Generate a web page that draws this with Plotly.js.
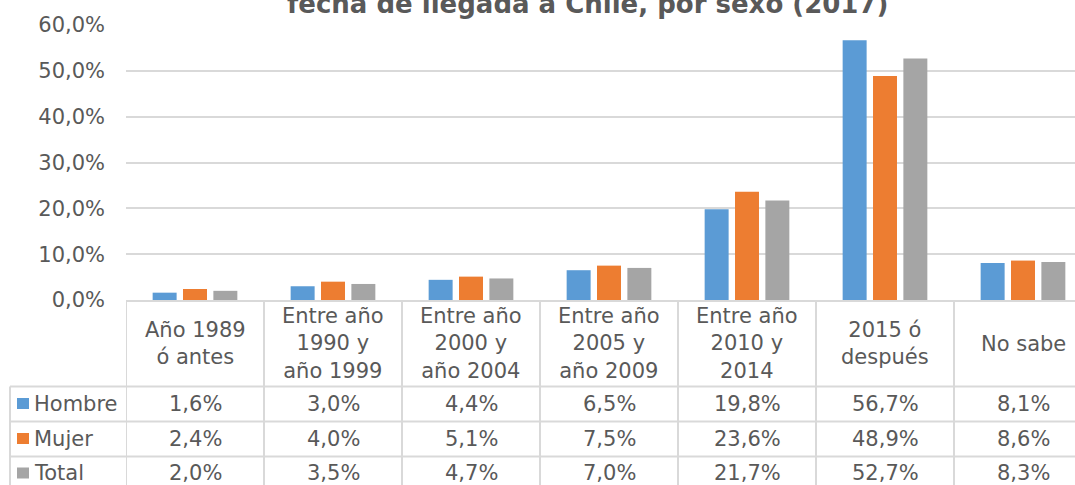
<!DOCTYPE html>
<html><head><meta charset="utf-8">
<script src="https://cdn.plot.ly/plotly-3.0.1.min.js"></script>
<style>html,body{margin:0;padding:0;background:#fff;}</style>
</head><body>
<div id="chart" style="width:1075px;height:485px;"></div>
<script>
// ---- data ----
const categories = ["Año 1989 ó antes","Entre año 1990 y año 1999","Entre año 2000 y año 2004","Entre año 2005 y año 2009","Entre año 2010 y 2014","2015 ó después","No sabe"];
const headerLabels = ["Año 1989<br>ó antes","Entre año<br>1990 y<br>año 1999","Entre año<br>2000 y<br>año 2004","Entre año<br>2005 y<br>año 2009","Entre año<br>2010 y<br>2014","2015 ó<br>después","No sabe"];
const seriesNames = ["Hombre","Mujer","Total"];
const hombre = [1.6,3.0,4.4,6.5,19.8,56.7,8.1];
const mujer  = [2.4,4.0,5.1,7.5,23.6,48.9,8.6];
const total  = [2.0,3.5,4.7,7.0,21.7,52.7,8.3];
const yTicks = [0,10,20,30,40,50,60];
const titleText = "fecha de llegada a Chile, por sexo (2017)";

// ---- style ----
const colors = ["#5B9BD5","#ED7D31","#A5A5A5"];
const txt = "#595959", grid = "#D9D9D9";
const FONT = "DejaVu Sans, Verdana, sans-serif";
const W = 1075, H = 485, L = 126, T = 25, B = 300;
const PW = W - L, PH = B - T;
const py = px => (B - px) / PH;       // pixel y -> paper y
const pxp = px => (px - L) / PW;      // pixel x -> paper x
const fmt = v => v.toFixed(1).replace('.', ',') + '%';

const series = [hombre, mujer, total];
const traces = series.map((vals, i) => ({
  type: 'bar', name: seriesNames[i], x: categories, y: vals,
  marker: {color: colors[i]}, hoverinfo: 'skip'
}));

const shapes = [], annotations = [];
const lineStyle = {color: grid, width: 2};
// table top
shapes.push({type:'line', xref:'paper', yref:'paper', x0:0, x1:1, y0:py(301), y1:py(301), line:lineStyle});
// row lines
[386.5, 421.5, 456.5].forEach(y => shapes.push({type:'line', xref:'paper', yref:'paper', x0:pxp(10), x1:1, y0:py(y), y1:py(y), line:lineStyle}));
// legend column left border
shapes.push({type:'line', xref:'paper', yref:'paper', x0:pxp(10), x1:pxp(10), y0:py(386.5), y1:py(495), line:lineStyle});
// column borders
for (let k = 0; k <= categories.length; k++) {
  shapes.push({type:'line', xref:'x', yref:'paper', x0:k-0.5, x1:k-0.5, y0:py(301), y1:py(495), line:lineStyle});
}
const rowCenters = [403.5, 438.5, 473];
// header
headerLabels.forEach((lab, i) => annotations.push({
  xref:'x', yref:'paper', x:i, y:py(343.5), text:lab, showarrow:false, align:'center',
  xanchor:'center', yanchor:'middle', font:{family:FONT, size:21, color:txt}
}));
// rows
series.forEach((vals, r) => {
  shapes.push({type:'rect', xref:'paper', yref:'paper', x0:pxp(17), x1:pxp(29), y0:py(rowCenters[r]-5.5), y1:py(rowCenters[r]+5.5), fillcolor:colors[r], line:{width:0}});
  annotations.push({xref:'paper', yref:'paper', x:pxp(32), y:py(rowCenters[r]), text:seriesNames[r], showarrow:false,
    xanchor:'left', yanchor:'middle', font:{family:FONT, size:21, color:txt}});
  vals.forEach((v, i) => annotations.push({xref:'x', yref:'paper', x:i, y:py(rowCenters[r]), text:fmt(v), showarrow:false,
    xanchor:'center', yanchor:'middle', font:{family:FONT, size:21, color:txt}}));
});
// title (top clipped like the reference)
annotations.push({xref:'paper', yref:'paper', x:pxp(587), y:py(4), text:'<b>'+titleText+'</b>', showarrow:false,
  xanchor:'center', yanchor:'middle', font:{family:FONT, size:26, color:txt}});

const layout = {
  width: W, height: H,
  margin: {l: L, r: 0, t: T, b: H - B, pad: 0},
  paper_bgcolor: '#fff', plot_bgcolor: '#fff',
  showlegend: false,
  barmode: 'group', bargap: 0.34, bargroupgap: 0.21,
  xaxis: {type:'category', range:[-0.5, categories.length - 0.5 - 17/138], showticklabels:false, showgrid:false, zeroline:false, showline:false, fixedrange:true},
  yaxis: {range:[0,60], tickmode:'array', tickvals:yTicks, ticktext:yTicks.map(fmt), showgrid:true, gridcolor:grid, gridwidth:2,
    zeroline:false, showline:false, ticks:'', ticklabelstandoff:20, tickfont:{family:FONT, size:21, color:txt}, fixedrange:true},
  shapes, annotations
};
Plotly.newPlot('chart', traces, layout, {displayModeBar:false, staticPlot:true});
</script>
</body></html>
